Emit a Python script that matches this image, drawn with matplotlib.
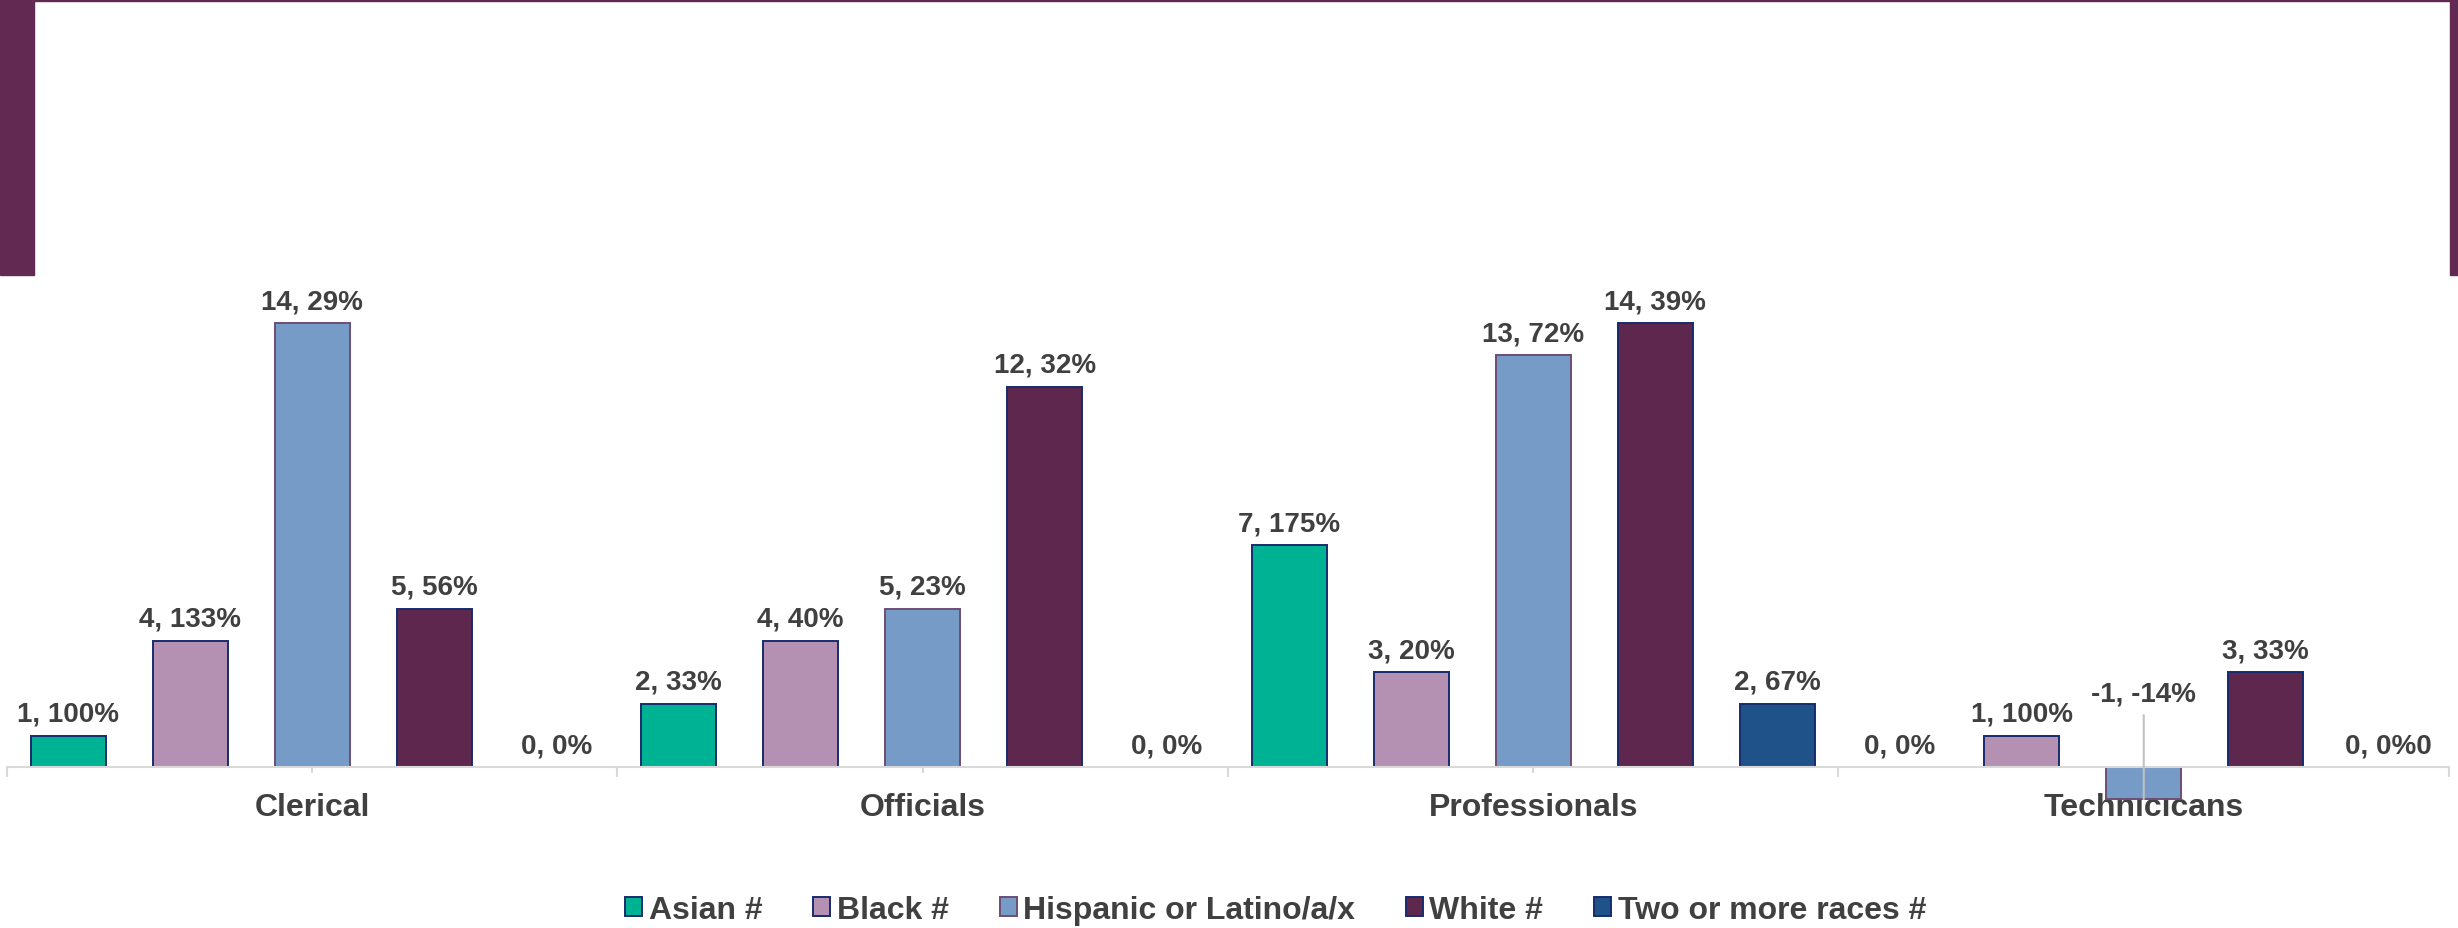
import numpy as np
import matplotlib
matplotlib.use("Agg")
from matplotlib import pyplot as plt
from matplotlib.patches import Rectangle

# Change in headcount by job category and race
categories = ["Clerical", "Officials", "Professionals", "Technicicans"]
series = ["Asian #", "Black #", "Hispanic or Latino/a/x", "White #", "Two or more races #"]

asian = [1, 2, 7, 0]
black = [4, 4, 3, 1]
hispanic = [14, 5, 13, -1]
white = [5, 12, 14, 3]
two_more = [0, 0, 2, 0]

asian_pct = ["100%", "33%", "175%", "0%"]
black_pct = ["133%", "40%", "20%", "100%"]
hispanic_pct = ["29%", "23%", "72%", "-14%"]
white_pct = ["56%", "32%", "39%", "33%"]
two_more_pct = ["0%", "0%", "67%", "0%0"]

values = [asian, black, hispanic, white, two_more]
pcts = [asian_pct, black_pct, hispanic_pct, white_pct, two_more_pct]

fills = ["#00b294", "#b491b2", "#769bc7", "#5e274e", "#1f5289"]
edges = ["#172c6e", "#172c6e", "#6d4d76", "#172c6e", "#172c6e"]
text_color = "#404040"
axis_color = "#d9d9d9"
frame_color = "#622a52"

plt.rcParams["font.family"] = ["Liberation Sans", "DejaVu Sans"]

W, H = 2458, 929
fig = plt.figure(figsize=(W / 100, H / 100), dpi=100)

# plot area in pixels: x 7..2449, y 261..816 (from the top)
ax = fig.add_axes([7 / W, 1 - 816 / H, 2442 / W, (816 - 261) / H])

x = np.arange(len(categories))
slot = 0.2
bar_w = 0.123

for k, (vals, pct) in enumerate(zip(values, pcts)):
    xs = x + (k - 2) * slot
    ax.bar(xs, vals, width=bar_w, color=fills[k], edgecolor=edges[k],
           linewidth=1.4, label=series[k], zorder=2)
    for xi, v, p in zip(xs, vals, pct):
        txt = "{}, {}".format(v, p)
        if v < 0:
            # negative bar: label lifted above the axis with a leader line
            ax.annotate(txt, xy=(xi, v), xytext=(xi, 2.1), textcoords="data",
                        ha="center", va="baseline", fontsize=20,
                        fontweight="bold", color=text_color,
                        arrowprops=dict(arrowstyle="-", color="#c0c0c0",
                                        lw=1.5, shrinkA=4, shrinkB=0),
                        zorder=4)
        else:
            ax.annotate(txt, xy=(xi, v), xytext=(0, 15),
                        textcoords="offset pixels", ha="center",
                        va="baseline", fontsize=20, fontweight="bold",
                        color=text_color, zorder=4)

ax.set_xlim(-0.5, len(categories) - 0.5)
ax.set_ylim(-1.5, 16)

for side in ["top", "left", "right"]:
    ax.spines[side].set_visible(False)
ax.spines["bottom"].set_position(("data", 0))
ax.spines["bottom"].set_color(axis_color)
ax.spines["bottom"].set_linewidth(1.5)
ax.spines["bottom"].set_zorder(3)

ax.set_yticks([])
ax.set_xticks(np.arange(len(categories) + 1) - 0.5)
ax.set_xticklabels([])
ax.set_xticks(x, labels=categories, minor=True)
ax.tick_params(axis="x", which="major", length=7, width=1.5, color=axis_color)
ax.tick_params(axis="x", which="minor", length=4, width=1.5, color=axis_color,
               pad=14, labelsize=23, labelcolor=text_color)
for lbl in ax.get_xticklabels(minor=True):
    lbl.set_fontweight("bold")

leg = ax.legend(loc="center", bbox_to_anchor=(0.519, 0.0194),
                bbox_transform=fig.transFigure, ncol=5, frameon=False,
                prop={"weight": "bold", "size": 23}, labelcolor=text_color,
                handlelength=0.53, handleheight=0.53, handletextpad=0.2,
                columnspacing=1.6)

# purple frame along the top of the figure
fig.patches.append(Rectangle((0, 1 - 2 / H), 1, 2 / H, transform=fig.transFigure,
                             color=frame_color, zorder=5))
fig.patches.append(Rectangle((0, 1 - 276 / H), 34 / W, 276 / H,
                             transform=fig.transFigure, color=frame_color, zorder=5))
fig.patches.append(Rectangle((1 - 8 / W, 1 - 276 / H), 8 / W, 276 / H,
                             transform=fig.transFigure, color=frame_color, zorder=5))

fig.savefig("out.png", dpi=100)
